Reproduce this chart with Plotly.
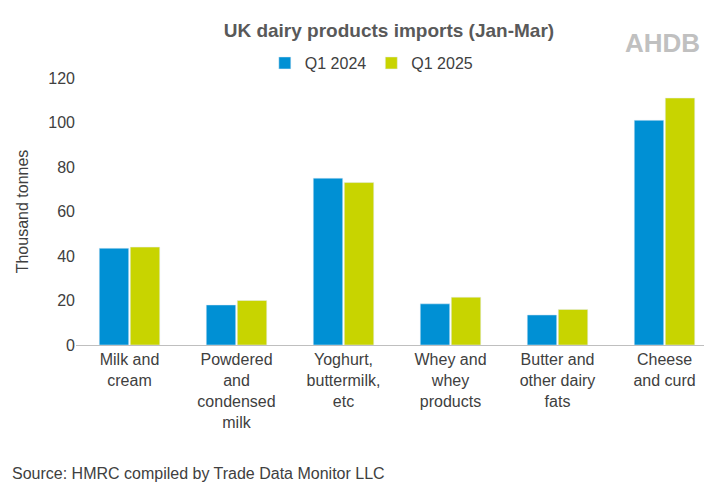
import plotly.graph_objects as go

categories = ["Milk and<br>cream", "Powdered<br>and<br>condensed<br>milk", "Yoghurt,<br>buttermilk,<br>etc",
              "Whey and<br>whey<br>products", "Butter and<br>other dairy<br>fats", "Cheese<br>and curd"]
q1_2024 = [43.5, 18, 75, 18.5, 13.5, 101]
q1_2025 = [44, 20, 73, 21.5, 16, 111]
yticks = [0, 20, 40, 60, 80, 100, 120]

fig = go.Figure()
fig.add_bar(x=categories, y=q1_2024, name="Q1 2024", marker_color="#0090D4")
fig.add_bar(x=categories, y=q1_2025, name="Q1 2025", marker_color="#C8D400")
fig.update_layout(
    width=712, height=482, plot_bgcolor="white", paper_bgcolor="white",
    font=dict(family="Liberation Sans, Arial", size=16, color="#404040"),
    margin=dict(l=68, r=2, t=70, b=145),
    bargap=0.42, bargroupgap=0.05,
    title=dict(text="<b>UK dairy products imports (Jan-Mar)</b>", x=0.535, xanchor="center",
               y=0.954, yanchor="middle", font=dict(size=19, color="#595959")),
    legend=dict(orientation="h", x=0.46, xanchor="center", y=1.056, yanchor="middle",
                font=dict(size=16), traceorder="normal", itemwidth=30),
    yaxis=dict(range=[0, 120], tickvals=yticks, showgrid=False, zeroline=False, showline=False,
               title=dict(text="Thousand tonnes", font=dict(size=16)), ticks="", ticklen=0),
    xaxis=dict(showline=True, linecolor="#BFBFBF", tickangle=0, ticks=""),
    annotations=[
        dict(text="Source: HMRC compiled by Trade Data Monitor LLC", xref="paper", yref="paper",
             x=-0.103, y=-0.48, xanchor="left", yanchor="middle", showarrow=False, font=dict(size=16)),
        dict(text="<b>AHDB</b>", xref="paper", yref="paper", x=0.975, y=1.13, xanchor="right",
             yanchor="middle", showarrow=False, font=dict(size=26, color="#C0C0C0")),
    ],
)
fig.write_html("out.html")
